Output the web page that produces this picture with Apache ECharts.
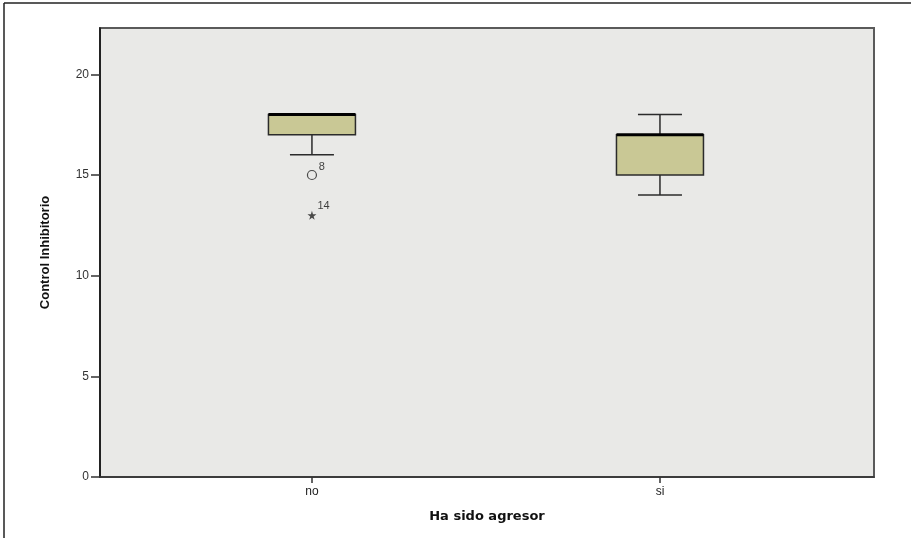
<!DOCTYPE html>
<html>
<head>
<meta charset="utf-8">
<script src="https://cdn.jsdelivr.net/npm/echarts@6/dist/echarts.min.js"></script>
<style>
  html, body { margin: 0; padding: 0; background: #ffffff; }
  #chart { width: 911px; height: 538px; }
</style>
</head>
<body>
<div id="chart"></div>
<script>
// Groups on the horizontal axis
const categories = ['no', 'si'];

// Five-number summaries per group
const lowWhisker  = [16, 14];
const q1          = [17, 15];
const median      = [18, 17];
const q3          = [18, 17];
const highWhisker = [18, 18];

// Outliers (circle) and extreme values (star), with case numbers
const outlierGroup = [0];
const outlierValue = [15];
const outlierCase  = ['8'];
const extremeGroup = [0];
const extremeValue = [13];
const extremeCase  = ['14'];

// Y axis ticks
const yTicks = [0, 5, 10, 15, 20];

const boxData = categories.map((c, i) => [i, lowWhisker[i], q1[i], median[i], q3[i], highWhisker[i]]);

const BOX_HALF = 43.5;
const CAP_HALF = 22;
const FILL = '#c9c895';
const STROKE = '#2b2b2b';

function renderBox(params, api) {
  const x = api.value(0);
  const pLo = api.coord([x, api.value(1)]);
  const pQ1 = api.coord([x, api.value(2)]);
  const pMed = api.coord([x, api.value(3)]);
  const pQ3 = api.coord([x, api.value(4)]);
  const pHi = api.coord([x, api.value(5)]);
  const cx = pMed[0];
  const lineStyle = { stroke: STROKE, lineWidth: 1.5, fill: null };
  const children = [];
  // whiskers
  children.push({ type: 'line', shape: { x1: cx, y1: pQ1[1], x2: cx, y2: pLo[1] }, style: lineStyle });
  children.push({ type: 'line', shape: { x1: cx, y1: pQ3[1], x2: cx, y2: pHi[1] }, style: lineStyle });
  // whisker caps
  children.push({ type: 'line', shape: { x1: cx - CAP_HALF, y1: pLo[1], x2: cx + CAP_HALF, y2: pLo[1] }, style: lineStyle });
  children.push({ type: 'line', shape: { x1: cx - CAP_HALF, y1: pHi[1], x2: cx + CAP_HALF, y2: pHi[1] }, style: lineStyle });
  // box
  children.push({
    type: 'rect',
    shape: { x: cx - BOX_HALF, y: pQ3[1], width: BOX_HALF * 2, height: pQ1[1] - pQ3[1] },
    style: { fill: FILL, stroke: STROKE, lineWidth: 1.5 }
  });
  // median
  children.push({
    type: 'line',
    shape: { x1: cx - BOX_HALF, y1: pMed[1], x2: cx + BOX_HALF, y2: pMed[1] },
    style: { stroke: '#000', lineWidth: 3 }
  });
  return { type: 'group', children: children };
}

const starPath = 'path://M50,0 L61,35 L98,35 L68,57 L79,91 L50,70 L21,91 L32,57 L2,35 L39,35 Z';

const chart = echarts.init(document.getElementById('chart'), null, { renderer: 'canvas' });

chart.setOption({
  animation: false,
  backgroundColor: '#ffffff',
  graphic: [
    { type: 'line', shape: { x1: 4, y1: 3, x2: 911, y2: 3 }, style: { stroke: '#222', lineWidth: 1.5 } },
    { type: 'line', shape: { x1: 4, y1: 3, x2: 4, y2: 538 }, style: { stroke: '#222', lineWidth: 1.5 } }
  ],
  grid: {
    left: 100, right: 37, top: 28, bottom: 61,
    show: true,
    backgroundColor: '#e9e9e7',
    borderColor: '#5a5a5a',
    borderWidth: 2
  },
  xAxis: {
    type: 'value',
    min: -0.609,
    max: 1.615,
    splitLine: { show: false },
    axisLine: { show: true, onZero: false, lineStyle: { color: '#333', width: 1.5 } },
    axisTick: { show: true, customValues: [0, 1], length: 6, lineStyle: { color: '#333', width: 1.5 } },
    axisLabel: {
      customValues: [0, 1],
      formatter: v => categories[Math.round(v)],
      color: '#222', fontFamily: 'Liberation Sans', fontSize: 12, margin: 9
    },
    name: 'Ha sido agresor',
    nameLocation: 'middle',
    nameGap: 33,
    nameTextStyle: { color: '#111', fontFamily: 'DejaVu Sans', fontWeight: 'bold', fontSize: 13 }
  },
  yAxis: {
    type: 'value',
    min: 0,
    max: 22.3,
    interval: 5,
    splitLine: { show: false },
    axisLine: { show: true, onZero: false, lineStyle: { color: '#111', width: 1.5 } },
    axisTick: { show: true, customValues: yTicks, length: 9, lineStyle: { color: '#333', width: 1.5 } },
    axisLabel: {
      customValues: yTicks,
      color: '#333', fontFamily: 'Liberation Sans', fontSize: 12, margin: 11
    },
    name: 'Control Inhibitorio',
    nameLocation: 'middle',
    nameGap: 48,
    nameTextStyle: { color: '#111', fontFamily: 'Liberation Sans', fontWeight: 'bold', fontSize: 13 }
  },
  series: [
    {
      type: 'custom',
      renderItem: renderBox,
      data: boxData,
      encode: { x: 0, y: [1, 2, 3, 4, 5] },
      z: 2
    },
    {
      type: 'scatter',
      symbol: 'circle',
      symbolSize: 9,
      itemStyle: { color: 'rgba(0,0,0,0)', borderColor: '#222', borderWidth: 1.2 },
      data: outlierGroup.map((g, i) => ({ value: [g, outlierValue[i]], name: outlierCase[i] })),
      label: {
        show: true,
        formatter: p => p.name,
        position: [12, -8],
        color: '#111', fontFamily: 'Liberation Sans', fontSize: 11
      },
      z: 3
    },
    {
      type: 'scatter',
      symbol: starPath,
      symbolSize: 9,
      itemStyle: { color: '#222' },
      data: extremeGroup.map((g, i) => ({ value: [g, extremeValue[i]], name: extremeCase[i] })),
      label: {
        show: true,
        formatter: p => p.name,
        position: [10, -10],
        color: '#111', fontFamily: 'Liberation Sans', fontSize: 11
      },
      z: 3
    }
  ]
});
</script>
</body>
</html>
